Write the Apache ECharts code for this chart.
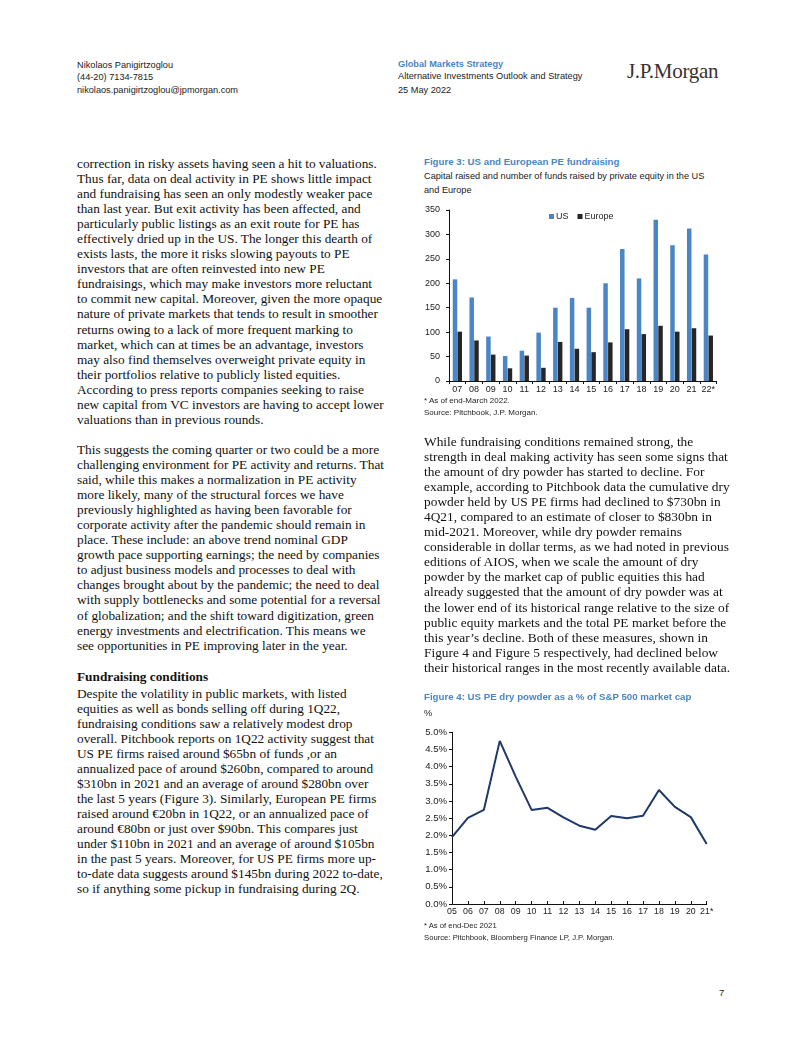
<!DOCTYPE html>
<html>
<head>
<meta charset="utf-8">
<script src="https://cdn.jsdelivr.net/npm/echarts@6/dist/echarts.min.js"></script>
<style>
html,body{margin:0;padding:0;background:#fff;}
#page{position:relative;width:802px;height:1037px;overflow:hidden;background:#fff;}
.sans{font-family:"Liberation Sans",Arial,sans-serif;color:#222;position:absolute;white-space:nowrap;}
.serif{font-family:"Liberation Serif","Times New Roman",serif;color:#111;position:absolute;white-space:nowrap;font-size:13.3px;line-height:15.05px;}
.hdr{font-size:9.2px;line-height:12.3px;}
.ftitle{font-size:9.7px;font-weight:bold;color:#4a86c5;}
.fsub{font-size:9.2px;line-height:14px;color:#222;}
.fnote{font-size:8px;line-height:12px;color:#222;}
.chart{position:absolute;}
</style>
</head>
<body>
<div id="page">
  <div class="sans hdr" style="left:77px;top:59px;">Nikolaos Panigirtzoglou<br>(44-20) 7134-7815<br>nikolaos.panigirtzoglou@jpmorgan.com</div>
  <div class="sans hdr" style="left:398px;top:58px;"><span style="color:#4a86c5;font-weight:bold;">Global Markets Strategy</span><br>Alternative Investments Outlook and Strategy</div>
  <div class="sans hdr" style="left:398px;top:84px;">25 May 2022</div>
  <div style="position:absolute;left:627px;top:59px;font-family:'Liberation Serif','Times New Roman',serif;font-size:21px;color:#3a3130;letter-spacing:-0.3px;white-space:nowrap;">J.P.Morgan</div>

  <div class="serif" style="left:77px;top:156px;">correction in risky assets having seen a hit to valuations.<br>Thus far, data on deal activity in PE shows little impact<br>and fundraising has seen an only modestly weaker pace<br>than last year. But exit activity has been affected, and<br>particularly public listings as an exit route for PE has<br>effectively dried up in the US. The longer this dearth of<br>exists lasts, the more it risks slowing payouts to PE<br>investors that are often reinvested into new PE<br>fundraisings, which may make investors more reluctant<br>to commit new capital. Moreover, given the more opaque<br>nature of private markets that tends to result in smoother<br>returns owing to a lack of more frequent marking to<br>market, which can at times be an advantage, investors<br>may also find themselves overweight private equity in<br>their portfolios relative to publicly listed equities.<br>According to press reports companies seeking to raise<br>new capital from VC investors are having to accept lower<br>valuations than in previous rounds.</div>

  <div class="serif" style="left:77px;top:442px;">This suggests the coming quarter or two could be a more<br>challenging environment for PE activity and returns. That<br>said, while this makes a normalization in PE activity<br>more likely, many of the structural forces we have<br>previously highlighted as having been favorable for<br>corporate activity after the pandemic should remain in<br>place. These include: an above trend nominal GDP<br>growth pace supporting earnings; the need by companies<br>to adjust business models and processes to deal with<br>changes brought about by the pandemic; the need to deal<br>with supply bottlenecks and some potential for a reversal<br>of globalization; and the shift toward digitization, green<br>energy investments and electrification. This means we<br>see opportunities in PE improving later in the year.</div>

  <div class="serif" style="left:77px;top:668.5px;font-weight:bold;">Fundraising conditions</div>
  <div class="serif" style="left:77px;top:685.5px;">Despite the volatility in public markets, with listed<br>equities as well as bonds selling off during 1Q22,<br>fundraising conditions saw a relatively modest drop<br>overall. Pitchbook reports on 1Q22 activity suggest that<br>US PE firms raised around $65bn of funds ,or an<br>annualized pace of around $260bn, compared to around<br>$310bn in 2021 and an average of around $280bn over<br>the last 5 years (Figure 3). Similarly, European PE firms<br>raised around €20bn in 1Q22, or an annualized pace of<br>around €80bn or just over $90bn. This compares just<br>under $110bn in 2021 and an average of around $105bn<br>in the past 5 years. Moreover, for US PE firms more up-<br>to-date data suggests around $145bn during 2022 to-date,<br>so if anything some pickup in fundraising during 2Q.</div>

  <div class="sans ftitle" style="left:424px;top:156px;">Figure 3: US and European PE fundraising</div>
  <div class="sans fsub" style="left:424px;top:169px;">Capital raised and number of funds raised by private equity in the US<br>and Europe</div>
  <div id="c1" class="chart" style="left:410px;top:200px;width:320px;height:200px;"></div>
  <div class="sans fnote" style="left:424px;top:395px;">* As of end-March 2022.<br>Source: Pitchbook, J.P. Morgan.</div>

  <div class="serif" style="left:424px;top:434px;font-size:13.4px;">While fundraising conditions remained strong, the<br>strength in deal making activity has seen some signs that<br>the amount of dry powder has started to decline. For<br>example, according to Pitchbook data the cumulative dry<br>powder held by US PE firms had declined to $730bn in<br>4Q21, compared to an estimate of closer to $830bn in<br>mid-2021. Moreover, while dry powder remains<br>considerable in dollar terms, as we had noted in previous<br>editions of AIOS, when we scale the amount of dry<br>powder by the market cap of public equities this had<br>already suggested that the amount of dry powder was at<br>the lower end of its historical range relative to the size of<br>public equity markets and the total PE market before the<br>this year’s decline. Both of these measures, shown in<br>Figure 4 and Figure 5 respectively, had declined below<br>their historical ranges in the most recently available data.</div>

  <div class="sans ftitle" style="left:424px;top:691px;">Figure 4: US PE dry powder as a % of S&amp;P 500 market cap</div>
  <div class="sans fsub" style="left:424px;top:706px;">%</div>
  <div id="c2" class="chart" style="left:410px;top:720px;width:320px;height:200px;"></div>
  <div class="sans fnote" style="left:424px;top:920px;font-size:7.7px;">* As of end-Dec 2021<br>Source: Pitchbook, Bloomberg Finance LP, J.P. Morgan.</div>

  <div class="sans" style="left:719px;top:987px;font-size:9.5px;">7</div>
</div>
<script>
// Figure 3 data
var fig3Years = ['07','08','09','10','11','12','13','14','15','16','17','18','19','20','21','22*'];
var fig3US = [208, 171, 91, 51, 62, 99, 150, 170, 150, 200, 270, 210, 330, 278, 312, 259];
var fig3Europe = [101, 83, 54, 26, 52, 27, 80, 66, 59, 79, 106, 96, 113, 101, 108, 93];
var fig3YTicks = [0, 50, 100, 150, 200, 250, 300, 350];

// Figure 4 data
var fig4Years = ['05','06','07','08','09','10','11','12','13','14','15','16','17','18','19','20','21*'];
var fig4DryPowder = [1.95, 2.51, 2.74, 4.75, 3.71, 2.74, 2.80, 2.52, 2.28, 2.16, 2.56, 2.50, 2.57, 3.32, 2.83, 2.53, 1.75];
var fig4YTicks = [0, 0.5, 1, 1.5, 2, 2.5, 3, 3.5, 4, 4.5, 5];

var FONT = '"Liberation Sans", Arial, sans-serif';

var c1 = echarts.init(document.getElementById('c1'), null, {renderer:'canvas'});
c1.setOption({
  animation:false,
  legend:{
    left:139, top:12, padding:0, itemWidth:5, itemHeight:5, itemGap:9,
    icon:'rect',
    textStyle:{color:'#222', fontSize:9, fontFamily:FONT, padding:[0,0,0,-3]},
    data:['US','Europe']
  },
  grid:{left:39, top:10, width:267.7, height:171, containLabel:false},
  xAxis:{
    type:'category', data:fig3Years,
    axisLine:{lineStyle:{color:'#111', width:1}},
    axisTick:{show:true, alignWithLabel:false, length:3, lineStyle:{color:'#111'}},
    axisLabel:{margin:4, interval:0, color:'#222', fontSize:9, fontFamily:FONT}
  },
  yAxis:{
    type:'value', min:fig3YTicks[0], max:fig3YTicks[fig3YTicks.length-1], interval:50,
    axisLine:{show:true, lineStyle:{color:'#111', width:1}},
    axisTick:{show:true, length:3, lineStyle:{color:'#111'}},
    splitLine:{show:false},
    axisLabel:{margin:9, color:'#222', fontSize:9, fontFamily:FONT}
  },
  series:[
    {name:'US', type:'bar', data:fig3US, barWidth:4.5, barGap:'6%', itemStyle:{color:'#4a86c5'}},
    {name:'Europe', type:'bar', data:fig3Europe, barWidth:4.5, itemStyle:{color:'#262626'}}
  ]
});

var c2 = echarts.init(document.getElementById('c2'), null, {renderer:'canvas'});
c2.setOption({
  animation:false,
  grid:{left:42, top:12.3, width:254.7, height:171.7, containLabel:false},
  xAxis:{
    type:'category', data:fig4Years, boundaryGap:false,
    axisLine:{lineStyle:{color:'#111', width:1}},
    axisTick:{show:true, inside:true, length:3, lineStyle:{color:'#111'}},
    axisLabel:{margin:3, interval:0, color:'#222', fontSize:8.8, fontFamily:FONT}
  },
  yAxis:{
    type:'value', min:fig4YTicks[0], max:fig4YTicks[fig4YTicks.length-1], interval:0.5,
    axisLine:{show:true, lineStyle:{color:'#111', width:1}},
    axisTick:{show:true, length:3, lineStyle:{color:'#111'}},
    splitLine:{show:false},
    axisLabel:{margin:5, color:'#222', fontSize:9.6, fontFamily:FONT, formatter:function(v){return v.toFixed(1)+'%';}}
  },
  series:[
    {name:'US PE dry powder', type:'line', data:fig4DryPowder, symbol:'none', lineStyle:{color:'#1f3a68', width:2}}
  ]
});
</script>
</body>
</html>
